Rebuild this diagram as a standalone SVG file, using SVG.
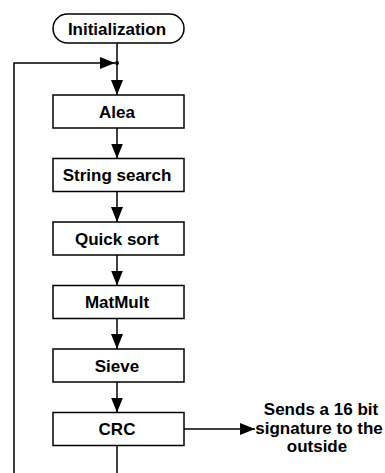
<svg xmlns="http://www.w3.org/2000/svg" width="385" height="473" viewBox="0 0 385 473">
  <style>
    .box { fill: #fff; stroke: #000; stroke-width: 1.5; }
    .lbl { font-family: "Liberation Sans", Arial, sans-serif; font-weight: bold; font-size: 17px; fill: #000; text-anchor: middle; }
    .wire { fill: none; stroke: #000; stroke-width: 1.5; }
  </style>
  <defs>
    <marker id="arrow" markerUnits="userSpaceOnUse" markerWidth="15" markerHeight="12" refX="15" refY="6" orient="auto">
      <path d="M0,0 L15,6 L0,12 Z" fill="#000"/>
    </marker>
  </defs>

  <g id="connectors">
    <line class="wire" x1="117" y1="43" x2="117" y2="95" marker-end="url(#arrow)"/>
    <polyline class="wire" points="14,473 14,63 115,63" marker-end="url(#arrow)"/>
    <circle cx="117" cy="63" r="2" fill="#000"/>
    <line class="wire" x1="117" y1="128" x2="117" y2="158.5" marker-end="url(#arrow)"/>
    <line class="wire" x1="117" y1="191.5" x2="117" y2="222" marker-end="url(#arrow)"/>
    <line class="wire" x1="117" y1="255" x2="117" y2="285.5" marker-end="url(#arrow)"/>
    <line class="wire" x1="117" y1="318.5" x2="117" y2="349" marker-end="url(#arrow)"/>
    <line class="wire" x1="117" y1="382" x2="117" y2="412.5" marker-end="url(#arrow)"/>
    <line class="wire" x1="117" y1="445.5" x2="117" y2="473"/>
    <line class="wire" x1="184" y1="429" x2="255" y2="429" marker-end="url(#arrow)"/>
  </g>

  <g id="initialization">
    <rect class="box" x="53" y="14" width="131" height="29" rx="14.5"/>
    <text class="lbl" x="117" y="34.5">Initialization</text>
  </g>
  <g id="alea">
    <rect class="box" x="53" y="95" width="131" height="33"/>
    <text class="lbl" x="117" y="117.5">Alea</text>
  </g>
  <g id="string-search">
    <rect class="box" x="53" y="158.5" width="131" height="33"/>
    <text class="lbl" x="117" y="181">String search</text>
  </g>
  <g id="quick-sort">
    <rect class="box" x="53" y="222" width="131" height="33"/>
    <text class="lbl" x="117" y="244.5">Quick sort</text>
  </g>
  <g id="matmult">
    <rect class="box" x="53" y="285.5" width="131" height="33"/>
    <text class="lbl" x="117" y="308">MatMult</text>
  </g>
  <g id="sieve">
    <rect class="box" x="53" y="349" width="131" height="33"/>
    <text class="lbl" x="117" y="371.5">Sieve</text>
  </g>
  <g id="crc">
    <rect class="box" x="53" y="412.5" width="131" height="33"/>
    <text class="lbl" x="117" y="435">CRC</text>
  </g>
  <g id="signature-note">
    <text class="lbl" x="321" y="415">Sends a 16 bit</text>
    <text class="lbl" x="319" y="433.5">signature to the</text>
    <text class="lbl" x="317" y="452">outside</text>
  </g>
</svg>
